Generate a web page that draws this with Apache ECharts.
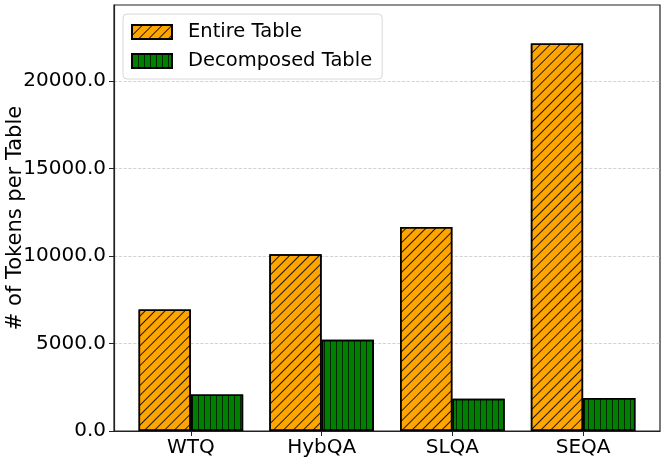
<!DOCTYPE html>
<html lang='en'>
<head>
  <meta charset='UTF-8'>
  <title>Tokens per Table</title>
  <script src="https://cdn.jsdelivr.net/npm/echarts@6/dist/echarts.min.js"></script>
  <style>
    html, body { margin: 0; padding: 0; background: #fff; }
    #chart { width: 664px; height: 459px; }
  </style>
</head>
<body>
  <div id="chart"></div>
  <script>
    const categories = ['WTQ', 'HybQA', 'SLQA', 'SEQA']
    const entireTable = [6940, 10090, 11650, 22125]
    const decomposedTable = [2090, 5205, 1840, 1880]
    const yTicks = [0, 5000, 10000, 15000, 20000]

    const font = 'DejaVu Sans'
    const chart = echarts.init(document.getElementById('chart'))

    chart.setOption({
      animation: false,
      backgroundColor: '#fff',
      grid: {
        left: 114, right: 4, top: 5, bottom: 28,
        outerBoundsMode: 'none',
        containLabel: false,
        show: true, borderColor: '#222', borderWidth: 1.2
      },
      legend: {
        orient: 'vertical',
        left: 123, top: 14,
        icon: 'rect',
        itemWidth: 40, itemHeight: 14, itemGap: 9,
        padding: [8, 10, 8, 8],
        backgroundColor: '#fff',
        borderColor: '#d8d8d8', borderWidth: 1, borderRadius: 4,
        textStyle: { fontFamily: font, fontSize: 19.5, color: '#000', padding: [0, 0, 0, 11] },
        data: ['Entire Table', 'Decomposed Table']
      },
      xAxis: {
        type: 'value',
        min: -0.588, max: 3.588,
        splitLine: { show: false },
        axisLine: { onZero: false, lineStyle: { color: '#222', width: 1.2 } },
        axisTick: { show: true, length: 5, customValues: [0, 1, 2, 3], lineStyle: { color: '#222' } },
        axisLabel: {
          customValues: [0, 1, 2, 3],
          formatter: v => categories[Math.round(v)] || '',
          fontFamily: font, fontSize: 20, color: '#000', margin: 7
        }
      },
      yAxis: {
        type: 'value',
        min: 0, max: 24330, interval: 5000,
        name: '# of Tokens per Table',
        nameLocation: 'middle', nameGap: 88,
        nameMoveOverlap: false,
        nameTextStyle: { fontFamily: font, fontSize: 21, color: '#000' },
        axisLine: { show: true, onZero: false, lineStyle: { color: '#222', width: 1.2 } },
        axisTick: { show: true, length: 5, customValues: yTicks, lineStyle: { color: '#222' } },
        axisLabel: {
          customValues: yTicks,
          formatter: v => v.toFixed(1),
          fontFamily: font, fontSize: 20, color: '#000', margin: 8
        },
        splitLine: { show: true, lineStyle: { type: 'dashed', color: '#c8c8c8', width: 0.8 } }
      },
      series: [
        {
          name: 'Entire Table',
          type: 'bar',
          barWidth: '40%',
          barGap: '0%',
          data: entireTable.map((v, i) => [i, v]),
          itemStyle: {
            color: '#ffa500', borderColor: '#000', borderWidth: 1.5,
            decal: {
              symbol: 'rect', color: 'rgba(0,0,0,0.85)',
              dashArrayX: [10, 0], dashArrayY: [1, 6],
              rotation: -Math.PI / 4
            }
          }
        },
        {
          name: 'Decomposed Table',
          type: 'bar',
          barWidth: '40%',
          barGap: '0%',
          data: decomposedTable.map((v, i) => [i, v]),
          itemStyle: {
            color: '#008000', borderColor: '#000', borderWidth: 1.5,
            decal: {
              symbol: 'rect', color: 'rgba(0,0,0,0.7)',
              dashArrayX: [1, 5], dashArrayY: [10, 0],
              rotation: 0
            }
          }
        }
      ]
    })
  </script>
</body>
</html>
